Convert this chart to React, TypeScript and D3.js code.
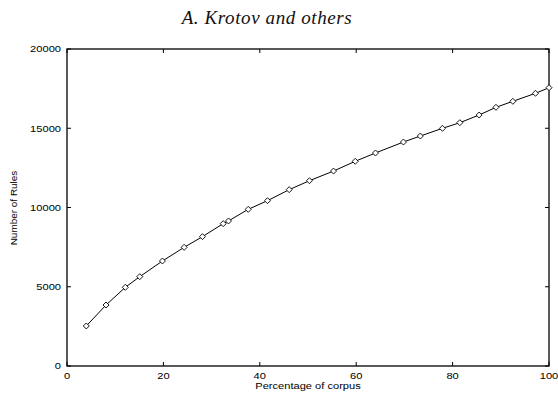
import React from "react";
import * as d3 from "d3";

const corpusPct = [4, 8.1, 12.1, 15.1, 19.8, 24.3, 28.1, 32.4, 33.5, 37.6, 41.6, 46.1, 50.3, 55.3, 59.8, 64.0, 69.8, 73.3, 77.9, 81.5, 85.5, 89.0, 92.5, 97.2, 100];
const numRules = [2524, 3848, 4965, 5636, 6625, 7487, 8160, 8980, 9150, 9885, 10430, 11125, 11690, 12300, 12915, 13440, 14130, 14510, 14995, 15350, 15835, 16320, 16700, 17205, 17560];
const xTicks = [0, 20, 40, 60, 80, 100];
const yTicks = [0, 5000, 10000, 15000, 20000];

const W = 558, H = 398;
const L = 67, R = 549, T = 49, B = 366;
const SX = 1.17;

function Lbl({ x, y, anchor, size, rotate, children }: any) {
  const tr = rotate ? `translate(${x},${y}) rotate(-90) scale(${SX},1)` : `translate(${x},${y}) scale(${SX},1)`;
  return (
    <text transform={tr} textAnchor={anchor} fontFamily="'Liberation Sans', Arial, sans-serif" fontSize={size} fill="#000">
      {children}
    </text>
  );
}

export default function App() {
  const x = d3.scaleLinear().domain([0, 100]).range([L, R]);
  const y = d3.scaleLinear().domain([0, 20000]).range([B, T]);
  const pts = corpusPct.map((c, i) => [x(c), y(numRules[i])] as [number, number]);
  const line = d3.line()(pts) || "";
  const tl = 4;
  return (
    <svg width={W} height={H} style={{ position: "absolute", left: 0, top: 0, background: "#fff" }}>
      <text x={267} y={23.5} textAnchor="middle" fontFamily="'Liberation Serif', 'Times New Roman', serif" fontStyle="italic" fontSize={19} letterSpacing={0.6} fill="#111">
        A. Krotov and others
      </text>
      <rect x={L} y={T} width={R - L} height={B - T} fill="none" stroke="#000" strokeWidth={1.3} />
      {xTicks.map((t) => (
        <g key={"x" + t}>
          <line x1={x(t)} x2={x(t)} y1={B} y2={B - tl} stroke="#000" />
          <line x1={x(t)} x2={x(t)} y1={T} y2={T + tl} stroke="#000" />
          <Lbl x={x(t)} y={378.5} anchor="middle" size={9.5}>{t}</Lbl>
        </g>
      ))}
      {yTicks.map((t) => (
        <g key={"y" + t}>
          <line x1={L} x2={L + tl} y1={y(t)} y2={y(t)} stroke="#000" />
          <line x1={R} x2={R - tl} y1={y(t)} y2={y(t)} stroke="#000" />
          <Lbl x={L - 6} y={y(t) + 3.4} anchor="end" size={9.5}>{t}</Lbl>
        </g>
      ))}
      <Lbl x={308} y={388.5} anchor="middle" size={9.5}>Percentage of corpus</Lbl>
      <Lbl x={16.7} y={208} anchor="middle" size={8.5} rotate>Number of Rules</Lbl>
      <path d={line} fill="none" stroke="#000" strokeWidth={1} />
      {pts.map(([px, py], i) => (
        <path key={i} d={`M${px},${py - 3}L${px + 3},${py}L${px},${py + 3}L${px - 3},${py}Z`} fill="#fff" stroke="#000" strokeWidth={0.9} />
      ))}
    </svg>
  );
}
